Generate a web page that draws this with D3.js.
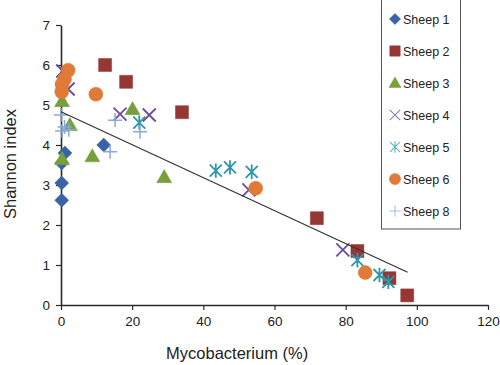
<!DOCTYPE html>
<html>
<head>
<meta charset="utf-8">
<script src="https://cdn.jsdelivr.net/npm/d3@7"></script>
<style>
  body { margin: 0; background: #fff; }
  svg text { font-family: "Liberation Sans", Arial, Helvetica, sans-serif; fill: #222; }
</style>
</head>
<body>
<script>
// Shannon index vs Mycobacterium (%) per sheep
const seriesNames = ["Sheep 1", "Sheep 2", "Sheep 3", "Sheep 4", "Sheep 5", "Sheep 6", "Sheep 8"];

const sheep1X = [1.1, 0.2, 0.2, 0.2, 12.0];
const sheep1Y = [3.8, 3.55, 3.05, 2.62, 4.0];

const sheep2X = [12.4, 18.3, 34.0, 71.9, 83.3, 92.3, 97.3];
const sheep2Y = [6.0, 5.58, 4.82, 2.17, 1.35, 0.67, 0.24];

const sheep3X = [0.3, 2.5, 0.3, 8.8, 20.1, 29.0];
const sheep3Y = [5.1, 4.5, 3.65, 3.72, 4.9, 3.2];

const sheep4X = [0.5, 2.0, 16.6, 24.8, 52.8, 79.2];
const sheep4Y = [5.85, 5.4, 4.77, 4.75, 2.88, 1.38];

const sheep5X = [22.0, 43.5, 47.5, 53.6, 83.3, 89.5, 92.0];
const sheep5Y = [4.56, 3.36, 3.44, 3.33, 1.12, 0.75, 0.58];

const sheep6X = [2.0, 1.0, 0.3, 0.2, 9.8, 54.7, 85.5];
const sheep6Y = [5.87, 5.65, 5.52, 5.33, 5.27, 2.92, 0.81];

const sheep8X = [0.0, 1.0, 0.3, 2.2, 15.2, 22.2, 13.8];
const sheep8Y = [4.75, 4.45, 4.35, 4.38, 4.62, 4.33, 3.83];

// regression line end points
const trendX = [0, 97.4];
const trendY = [4.83, 0.82];

const xTicks = [0, 20, 40, 60, 80, 100, 120];
const yTicks = [0, 1, 2, 3, 4, 5, 6, 7];

(function() {
    const W = 500, H = 365;
    const margin = {top: 25, left: 61},
        width = 427,
        height = 280;

    const svg = d3.select("body").append("svg")
        .attr("width", W)
        .attr("height", H);

    const g = svg.append("g")
        .attr("transform", "translate(" + margin.left + "," + margin.top + ")");

    const x = d3.scaleLinear().domain([0, 120]).range([0, width]);
    const y = d3.scaleLinear().domain([0, 7]).range([height, 0]);

    // marker shapes, r = half size
    function markerPath(type, r) {
        const p = d3.path();
        if (type === "diamond") {
            p.moveTo(0, -r); p.lineTo(r, 0); p.lineTo(0, r); p.lineTo(-r, 0); p.closePath();
        } else if (type === "square") {
            p.rect(-r, -r, 2 * r, 2 * r);
        } else if (type === "triangle") {
            p.moveTo(0, -r); p.lineTo(r, r * 0.75); p.lineTo(-r, r * 0.75); p.closePath();
        } else if (type === "circle") {
            p.arc(0, 0, r, 0, 2 * Math.PI);
        } else if (type === "times") {
            p.moveTo(-r, -r); p.lineTo(r, r); p.moveTo(r, -r); p.lineTo(-r, r);
        } else if (type === "asterisk") {
            p.moveTo(-r, -r); p.lineTo(r, r); p.moveTo(r, -r); p.lineTo(-r, r);
            p.moveTo(0, -r * 1.2); p.lineTo(0, r * 1.2);
        } else if (type === "plus") {
            p.moveTo(-r, 0); p.lineTo(r, 0); p.moveTo(0, -r); p.lineTo(0, r);
        }
        return p.toString();
    }

    const series = [
        {name: seriesNames[0], xs: sheep1X, ys: sheep1Y, type: "diamond", color: "#3A63A6", r: 7, filled: true},
        {name: seriesNames[1], xs: sheep2X, ys: sheep2Y, type: "square", color: "#953735", r: 6.5, filled: true},
        {name: seriesNames[2], xs: sheep3X, ys: sheep3Y, type: "triangle", color: "#77A03C", r: 7.5, filled: true},
        {name: seriesNames[3], xs: sheep4X, ys: sheep4Y, type: "times", color: "#6C4C9C", r: 6.5, filled: false, sw: 1.8},
        {name: seriesNames[4], xs: sheep5X, ys: sheep5Y, type: "asterisk", color: "#2B97AE", r: 6, filled: false, sw: 1.8},
        {name: seriesNames[5], xs: sheep6X, ys: sheep6Y, type: "circle", color: "#E07A37", r: 7, filled: true},
        {name: seriesNames[6], xs: sheep8X, ys: sheep8Y, type: "plus", color: "#8BA8D8", r: 7, filled: false, sw: 1.5}
    ];

    // axes
    const yAxis = g.append("g")
        .call(d3.axisLeft(y).tickValues(yTicks).tickFormat(d3.format("d"))
            .tickSize(5).tickSizeOuter(0).tickPadding(6));
    const xAxis = g.append("g")
        .attr("transform", "translate(0," + height + ")")
        .call(d3.axisBottom(x).tickValues(xTicks).tickFormat(d3.format("d"))
            .tickSize(5).tickSizeOuter(0).tickPadding(6));

    [xAxis, yAxis].forEach(a => {
        a.select(".domain").attr("stroke", "#2a2a2a").attr("stroke-width", 1.6);
        a.selectAll(".tick line").attr("stroke", "#2a2a2a").attr("stroke-width", 1.2);
        a.selectAll(".tick text")
            .style("font-family", "'Liberation Sans', Arial, sans-serif")
            .style("font-size", "13.5px")
            .attr("fill", "#222");
    });

    // points
    series.forEach(s => {
        g.append("g").selectAll("path")
            .data(s.xs.map((v, i) => [v, s.ys[i]]))
            .enter().append("path")
            .attr("transform", d => "translate(" + x(d[0]) + "," + y(d[1]) + ")")
            .attr("d", markerPath(s.type, s.r))
            .attr("fill", s.filled ? s.color : "none")
            .attr("stroke", s.color)
            .attr("stroke-width", s.filled ? 0.5 : s.sw);
    });

    // trend line
    g.append("path")
        .datum(trendX.map((v, i) => [v, trendY[i]]))
        .attr("fill", "none")
        .attr("stroke", "#333")
        .attr("stroke-width", 1.2)
        .attr("d", d3.line().x(d => x(d[0])).y(d => y(d[1])));

    // axis titles
    svg.append("text")
        .attr("x", margin.left + x(49.5))
        .attr("y", 359)
        .attr("text-anchor", "middle")
        .style("font-size", "16.5px")
        .text("Mycobacterium (%)");

    svg.append("text")
        .attr("transform", "translate(16,164) rotate(-90)")
        .attr("text-anchor", "middle")
        .style("font-size", "16.5px")
        .text("Shannon index");

    // legend
    const legend = svg.append("g").attr("transform", "translate(381,0)");
    legend.append("rect")
        .attr("x", 0.5).attr("y", -1)
        .attr("width", 79).attr("height", 230)
        .attr("fill", "#fff")
        .attr("stroke", "#555")
        .attr("stroke-width", 1);

    const rowY = d3.scaleLinear().domain([0, 6]).range([19, 211]);
    series.forEach((s, i) => {
        const row = legend.append("g").attr("transform", "translate(14," + rowY(i) + ")");
        row.append("path")
            .attr("d", markerPath(s.type, s.r * 0.8))
            .attr("fill", s.filled ? s.color : "none")
            .attr("stroke", s.color)
            .attr("stroke-width", s.filled ? 0.5 : 1.1)
            .attr("opacity", s.filled ? 1 : 0.75);
        row.append("text")
            .attr("x", 8)
            .attr("y", 4.5)
            .style("font-size", "12.5px")
            .text(s.name);
    });
})();
</script>
</body>
</html>
